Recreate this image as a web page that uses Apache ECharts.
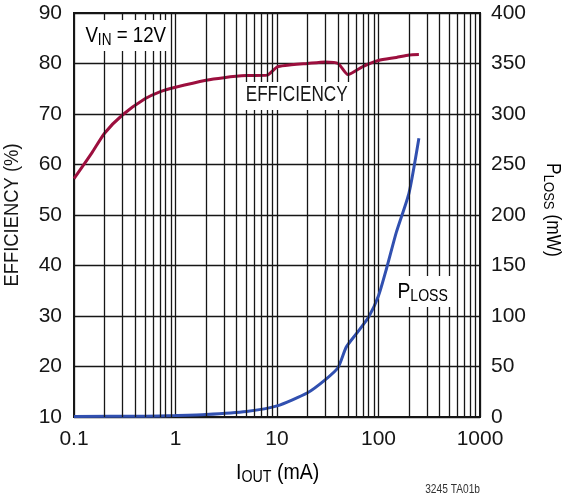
<!DOCTYPE html>
<html>
<head>
<meta charset="utf-8">
<script src="https://cdn.jsdelivr.net/npm/echarts@6/dist/echarts.min.js"></script>
<style>
  html, body { margin: 0; padding: 0; background: #fff; }
  #chart { width: 571px; height: 500px; }
</style>
</head>
<body>
<div id="chart"></div>
<script>
// efficiency curve (%), left axis
var effCurrent = [0.1, 0.15, 0.2, 0.3, 0.5, 0.7, 1, 2, 3, 5, 8, 10, 12, 20, 30, 40, 50, 70, 100, 150, 200, 250];
var effValues  = [57.2, 62.3, 66.2, 69.8, 73.0, 74.4, 75.3, 76.7, 77.2, 77.6, 77.7, 79.3, 79.6, 80.0, 80.3, 80.0, 77.8, 79.4, 80.6, 81.2, 81.7, 81.8];

// power loss curve (mW), right axis
var lossCurrent = [0.1, 0.5, 1, 2, 5, 10, 20, 30, 40, 48, 60, 80, 100, 120, 150, 200, 250];
var lossValues  = [0.5, 0.8, 1.5, 2.5, 5.5, 11, 24, 37, 49, 69, 82, 99, 120, 147, 183, 222, 276];

// minor log grid lines (2..9 in every decade)
var decades = [0.1, 1, 10, 100];
var minorSteps = [2, 3, 4, 5, 6, 7, 8, 9];

var FONT = '"Liberation Sans", Arial, sans-serif';
var INK = '#161616';
var RED = '#9c0f3e';
var BLUE = '#3150b0';

var minorLines = [];
decades.forEach(function (d) {
    minorSteps.forEach(function (k) {
        minorLines.push({ xAxis: +(d * k).toPrecision(3) });
    });
});

function pair(xs, ys) {
    return xs.map(function (x, i) { return [x, ys[i]]; });
}

var subRich = {
    m: { fontFamily: FONT, fontSize: 22, color: INK },
    s: { fontFamily: FONT, fontSize: 16, color: INK, padding: [11, 0, 0, 0] }
};

var myChart = echarts.init(document.getElementById('chart'));

var option = {
    animation: false,
    backgroundColor: '#fff',
    grid: {
        left: 74, right: 91, top: 13, bottom: 83,
        show: true, borderColor: INK, borderWidth: 2
    },
    xAxis: {
        type: 'log',
        logBase: 10,
        min: 0.1,
        max: 1000,
        axisLine: { lineStyle: { color: INK, width: 2 } },
        axisTick: { show: false },
        axisLabel: {
            fontFamily: FONT, fontSize: 21, color: INK, margin: 12,
            formatter: function (v) { return String(+v.toPrecision(3)); }
        },
        splitLine: { show: true, lineStyle: { color: INK, width: 1.3 } }
    },
    yAxis: [{
        type: 'value',
        min: 10, max: 90, interval: 10,
        axisLine: { show: true, lineStyle: { color: INK, width: 2 } },
        axisTick: { show: false },
        axisLabel: { fontFamily: FONT, fontSize: 21, color: INK, margin: 12 },
        splitLine: { show: true, lineStyle: { color: INK, width: 1.3 } }
    }, {
        type: 'value',
        min: 0, max: 400, interval: 50,
        position: 'right',
        axisLine: { show: true, lineStyle: { color: INK, width: 2 } },
        axisTick: { show: false },
        axisLabel: { fontFamily: FONT, fontSize: 21, color: INK, margin: 11 },
        splitLine: { show: false }
    }],
    series: [{
        name: 'grid',
        type: 'line',
        data: [],
        z: 1,
        markLine: {
            silent: true,
            symbol: ['none', 'none'],
            label: { show: false },
            lineStyle: { color: INK, width: 1.3, type: 'solid' },
            data: minorLines
        }
    }, {
        name: 'EFFICIENCY',
        type: 'line',
        yAxisIndex: 0,
        data: pair(effCurrent, effValues),
        showSymbol: false,
        smooth: 0.2,
        z: 3,
        lineStyle: { color: RED, width: 3 }
    }, {
        name: 'PLOSS',
        type: 'line',
        yAxisIndex: 1,
        data: pair(lossCurrent, lossValues),
        showSymbol: false,
        smooth: 0.2,
        z: 3,
        lineStyle: { color: BLUE, width: 3 }
    }],
    graphic: [{
        type: 'text', x: 82, y: 20, scaleX: 0.85, z: 10,
        style: {
            text: '{m|V}{s|IN}{m| = 12V}', rich: subRich,
            backgroundColor: '#fff', padding: [2, 4, 2, 4]
        }
    }, {
        type: 'text', x: 241, y: 82, scaleX: 0.78, z: 10,
        style: {
            text: 'EFFICIENCY', fontFamily: FONT, fontSize: 22, fill: INK,
            backgroundColor: '#fff', padding: [2, 6, 4, 6]
        }
    }, {
        type: 'text', x: 393, y: 276, scaleX: 0.88, z: 10,
        style: {
            text: '{m|P}{s|LOSS}', rich: subRich,
            backgroundColor: '#fff', padding: [2, 5, 2, 5]
        }
    }, {
        type: 'text', x: 236, y: 459, scaleX: 0.89, z: 10,
        style: { text: '{m|I}{s|OUT}{m| (mA)}', rich: subRich }
    }, {
        type: 'text', x: 12, y: 215, rotation: Math.PI / 2, scaleX: 0.92, z: 10,
        style: {
            text: 'EFFICIENCY (%)', fontFamily: FONT, fontSize: 20, fill: INK,
            align: 'center', verticalAlign: 'middle'
        }
    }, {
        type: 'text', x: 553, y: 210, rotation: -Math.PI / 2, scaleX: 0.87, z: 10,
        style: {
            text: '{m|P}{s|LOSS}{m| (mW)}',
            rich: {
                m: { fontFamily: FONT, fontSize: 20, color: INK },
                s: { fontFamily: FONT, fontSize: 15, color: INK, padding: [10, 0, 0, 0] }
            },
            align: 'center', verticalAlign: 'middle'
        }
    }, {
        type: 'text', x: 480, y: 484, scaleX: 0.85, z: 10,
        style: {
            text: '3245 TA01b', fontFamily: FONT, fontSize: 12, fill: '#333',
            align: 'right', verticalAlign: 'top'
        }
    }]
};

myChart.setOption(option);
</script>
</body>
</html>
